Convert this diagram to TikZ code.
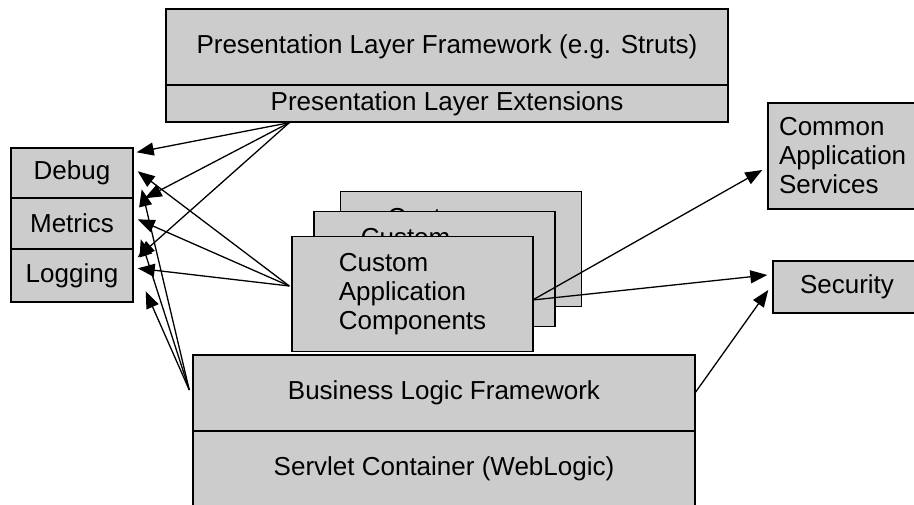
\documentclass[tikz,border=0pt]{standalone}
\usepackage{fontspec}
\setmainfont{Liberation Sans}
\usetikzlibrary{arrows.meta}
\definecolor{boxgray}{RGB}{204,204,204}
\begin{document}
\begin{tikzpicture}[x=1pt,y=-1pt,
  box/.style={draw=black, line width=1.4pt, fill=boxgray, inner sep=0pt,
    font=\fontsize{26}{29}\selectfont, text=black},
  stackbox/.style={box, minimum width=241pt, minimum height=115pt, align=left},
  link/.style={draw=black, line width=1.3pt, -{Triangle[length=17pt,width=13pt]}},
]
\useasboundingbox (0,0) rectangle (914,505);

% presentation tier
\node[box, minimum width=562pt, minimum height=76pt] (pfw) at (447,47)
  {Presentation Layer Framework (e.g. Struts)};
\node[box, minimum width=562pt, minimum height=37pt] (pext) at (447,103.5)
  {Presentation Layer Extensions};

% cross-cutting utilities
\node[box, minimum width=122pt, minimum height=50pt] (debug) at (72,173) {Debug};
\node[box, minimum width=122pt, minimum height=51pt] (metrics) at (72,223.5) {Metrics};
\node[box, minimum width=122pt, minimum height=53pt] (logging) at (72,275.5) {Logging};

% stacked application components (back to front)
\node[stackbox] (cback) at (461,249) {Custom\\Application\\Components};
\node[stackbox] (cmid) at (434.5,269) {Custom\\Application\\Components};
\node[stackbox] (cfront) at (412.5,294) {Custom\\Application\\Components};

% business tier and container
\node[box, minimum width=502pt, minimum height=76pt] (blf) at (444,393)
  {Business Logic Framework};
\node[box, minimum width=502pt, minimum height=76pt] (servlet) at (444,469)
  {Servlet Container (WebLogic)};

% shared services
\node[box, inner xsep=11pt, text width=128pt, align=left, minimum height=106pt]
  (common) at (843,156) {Common\\Application\\Services};
\node[box, minimum width=148pt, minimum height=52pt] (security) at (847,287) {Security};

% connector end points
\coordinate (ps) at ([xshift=124pt]pext.south west);
\coordinate (cs) at ([shift={(-2,-8)}]cfront.west);
\coordinate (bs) at ([shift={(-3,-3)}]blf.west);
\coordinate (ce) at ([shift={(-1,6)}]cfront.east);
\coordinate (be) at ([shift={(0,-1)}]blf.east);

\coordinate (dP) at ([shift={(3,5)}]debug.north east);
\coordinate (dC) at ([shift={(4,24)}]debug.north east);
\coordinate (dB) at ([shift={(8,42)}]debug.north east);
\coordinate (mP) at ([shift={(11,1)}]metrics.north east);
\coordinate (mC) at ([shift={(4,22)}]metrics.north east);
\coordinate (mB) at ([shift={(7,42)}]metrics.north east);
\coordinate (lP) at ([shift={(4,9)}]logging.north east);
\coordinate (lC) at ([shift={(4,20)}]logging.north east);
\coordinate (lB) at ([shift={(12,43)}]logging.north east);

\coordinate (cmT) at ([shift={(-5,14)}]common.west);
\coordinate (scT) at ([shift={(-5,-12)}]security.west);
\coordinate (sbT) at ([shift={(-4,3)}]security.west);

% presentation extensions to utilities
\draw[link] (ps) -- (dP);
\draw[link] (ps) -- (mP);
\draw[link] (ps) -- (lP);
% components to utilities
\draw[link] (cs) -- (dC);
\draw[link] (cs) -- (mC);
\draw[link] (cs) -- (lC);
% business logic to utilities
\draw[link] (bs) -- (dB);
\draw[link] (bs) -- (mB);
\draw[link] (bs) -- (lB);
% to shared services
\draw[link] (ce) -- (cmT);
\draw[link] (ce) -- (scT);
\draw[link] (be) -- (sbT);
\end{tikzpicture}
\end{document}
